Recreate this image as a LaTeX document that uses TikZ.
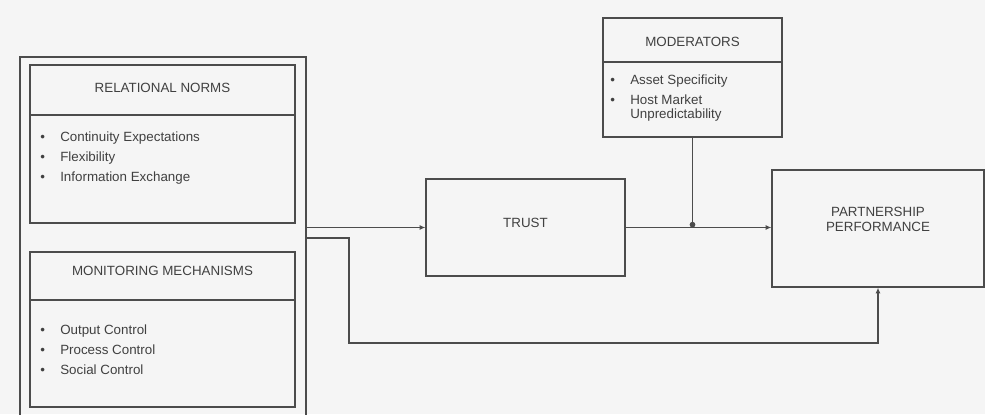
\documentclass[tikz,border=0pt]{standalone}
\usepackage{fontspec}
\setmainfont{Liberation Sans}
\usetikzlibrary{arrows.meta}
\newcommand\bul{\makebox[0.5cm][l]{\textbullet}}

\begin{document}
\begin{tikzpicture}[x=0.025cm,y=-0.025cm,
        box/.style={draw=black!70, line width=0.9pt, rectangle, inner sep=0pt},
        lbl/.style={text=black!75, font=\fontsize{9.5}{14.2}\selectfont},
        lnk/.style={draw=black!70, line width=0.9pt},
        arr/.style={lnk, -{Latex[length=4pt,width=3.5pt]}}]
        \useasboundingbox (0,0) rectangle (985,414);
        \clip (0,0) rectangle (985,414);
        \fill[black!4] (0,0) rectangle (985,414);

        % antecedents
        \node[box, minimum width=7.15cm, minimum height=9.075cm] (outer) at (163,238.5) {};

        \node[box, minimum width=6.625cm, minimum height=3.95cm] (relnorms) at (162.5,144) {};
        \node[lbl] (relnormstitle) at (162.5,88) {RELATIONAL NORMS};
        \draw[lnk] (relnorms.west |- 0,115) -- (relnorms.east |- 0,115);
        \node[lbl, align=left, anchor=base west, inner sep=0pt] (relnormsitems) at (40,181.5)
            {\bul Continuity Expectations\\ \bul Flexibility\\ \bul Information Exchange};

        \node[box, minimum width=6.625cm, minimum height=3.875cm] (monitor) at (162.5,329.5) {};
        \node[lbl] (monitortitle) at (162.5,271) {MONITORING MECHANISMS};
        \draw[lnk] (monitor.west |- 0,300) -- (monitor.east |- 0,300);
        \node[lbl, align=left, anchor=base west, inner sep=0pt] (monitoritems) at (40,374.5)
            {\bul Output Control\\ \bul Process Control\\ \bul Social Control};

        % trust
        \node[box, minimum width=4.975cm, minimum height=2.425cm] (trust) at (525.5,227.5) {};
        \node[lbl] (trusttitle) at (525.5,223) {TRUST};

        % moderators
        \node[box, minimum width=4.475cm, minimum height=2.975cm] (moder) at (692.5,77.5) {};
        \node[lbl] (modertitle) at (692.5,42) {MODERATORS};
        \draw[lnk] (moder.west |- 0,62) -- (moder.east |- 0,62);
        \node[lbl, align=left, anchor=base west, inner sep=0pt] (moderitems) at (610,118.5)
            {\bul Asset Specificity\\ \bul Host Market\\[-4.2pt] \hspace*{0.5cm}Unpredictability};

        % outcome
        \node[box, minimum width=5.3cm, minimum height=2.925cm] (perf) at (878,228.5) {};
        \node[lbl, align=center, font=\fontsize{9.5}{10.6}\selectfont] (perftitle) at (878,219.5)
            {PARTNERSHIP\\PERFORMANCE};

        % links
        \coordinate (junc) at (moder.south |- trust.east);
        \draw[arr] (outer.east |- trust.west) -- (trust.west);
        \draw[arr] (trust.east) -- (perf.west |- trust.east);
        \draw[lnk, -{Circle[length=4pt]}] (moder.south) -- (junc);
        \draw[arr] (outer.east |- 0,238) -| (349,343) -| (perf.south);
    \end{tikzpicture}
\end{document}
